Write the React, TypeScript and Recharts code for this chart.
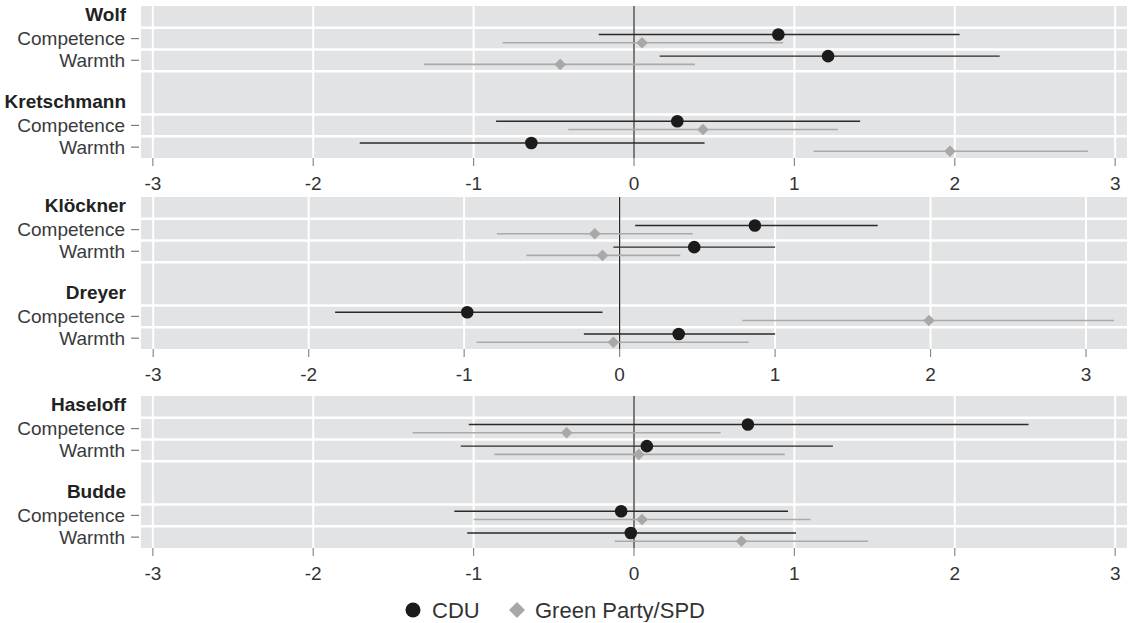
import React from "react";
import { CartesianGrid, ErrorBar, ReferenceLine, Scatter, ScatterChart, XAxis, YAxis } from "recharts";

const FONT = "'Liberation Sans', Arial, Helvetica, sans-serif";

// values per panel in the order: 1st name competence, 1st name warmth, 2nd name competence, 2nd name warmth
const dims = ["Competence", "Warmth"];
const xTicks = [-3, -2, -1, 0, 1, 2, 3];

const names1 = ["Wolf", "Kretschmann"];
const cduMean1 = [0.9, 1.21, 0.27, -0.64];
const cduLow1 = [-0.22, 0.16, -0.86, -1.71];
const cduHigh1 = [2.03, 2.28, 1.41, 0.44];
const greenMean1 = [0.05, -0.46, 0.43, 1.97];
const greenLow1 = [-0.82, -1.31, -0.41, 1.12];
const greenHigh1 = [0.93, 0.38, 1.27, 2.83];

const names2 = ["Klöckner", "Dreyer"];
const cduMean2 = [0.87, 0.48, -0.98, 0.38];
const cduLow2 = [0.1, -0.04, -1.83, -0.23];
const cduHigh2 = [1.66, 1.0, -0.11, 1.0];
const greenMean2 = [-0.16, -0.11, 1.99, -0.04];
const greenLow2 = [-0.79, -0.6, 0.79, -0.92];
const greenHigh2 = [0.47, 0.39, 3.18, 0.83];

const names3 = ["Haseloff", "Budde"];
const cduMean3 = [0.71, 0.08, -0.08, -0.02];
const cduLow3 = [-1.03, -1.08, -1.12, -1.04];
const cduHigh3 = [2.46, 1.24, 0.96, 1.01];
const greenMean3 = [-0.42, 0.03, 0.05, 0.67];
const greenLow3 = [-1.38, -0.87, -1.0, -0.12];
const greenHigh3 = [0.54, 0.94, 1.1, 1.46];

// row layout: header, competence, warmth, blank, header, competence, warmth
const labelRows = [0, 1, 2, 4, 5, 6];
const rowOf = (k: number) => Math.floor(k / 2) * 4 + 1 + (k % 2);

function series(mean: number[], low: number[], high: number[], shift: number) {
  return mean.map((m, k) => ({ x: m, y: rowOf(k) + shift, err: [m - low[k], high[k] - m] }));
}

const dot = (p: any) => <circle cx={p.cx} cy={p.cy} r={6.3} fill="#1b1b1b" />;
const diamond = (p: any) => (
  <polygon
    points={`${p.cx},${p.cy - 5.8} ${p.cx + 5.8},${p.cy} ${p.cx},${p.cy + 5.8} ${p.cx - 5.8},${p.cy}`}
    fill="#a8a8a8"
  />
);

function rowTick(props: any, names: string[]) {
  const { x, y, payload } = props;
  const v = payload.value;
  if (v % 4 === 0) {
    return (
      <text x={x - 14} y={y - 3} dy="0.36em" textAnchor="end" fontSize={19} fontWeight={700} fill="#222" fontFamily={FONT}>
        {names[v / 4]}
      </text>
    );
  }
  return (
    <g>
      <text x={x - 15} y={y} dy="0.36em" textAnchor="end" fontSize={19} fill="#3a3a3a" fontFamily={FONT}>
        {dims[(v % 4) - 1]}
      </text>
      <line x1={x - 9} x2={x - 1} y1={y} y2={y} stroke="#7a7a7a" strokeWidth={1.2} />
    </g>
  );
}

function Panel(props: {
  names: string[];
  cdu: any[];
  green: any[];
  domain: [number, number];
  top: number;
}) {
  const { names, cdu, green, domain, top } = props;
  return (
    <div style={{ position: "absolute", left: 0, top }}>
      <ScatterChart width={1129} height={195} margin={{ top: 6, right: 1, bottom: 0, left: 0 }}>
        <CartesianGrid horizontal={false} stroke="#ffffff" strokeWidth={2} fill="#e2e3e5" />
        <XAxis
          dataKey="x"
          type="number"
          domain={domain}
          allowDataOverflow
          ticks={xTicks}
          interval={0}
          axisLine={false}
          tickSize={8}
          tickMargin={11}
          tickLine={{ stroke: "#8a8a8a", strokeWidth: 1.2 }}
          tick={{ fontSize: 19, fill: "#333", fontFamily: FONT }}
          height={37}
        />
        <YAxis
          dataKey="y"
          type="number"
          domain={[-0.5, 6.5]}
          reversed
          allowDataOverflow
          ticks={labelRows}
          interval={0}
          axisLine={false}
          tickLine={false}
          tickSize={0}
          tickMargin={0}
          width={140}
          tick={(p: any) => rowTick(p, names)}
        />
        {labelRows.slice(0, -1).map((r) => (
          <ReferenceLine key={r} y={r + 0.5} stroke="#ffffff" strokeWidth={2.5} />
        ))}
        <ReferenceLine x={0} stroke="#222" strokeWidth={1.2} />
        <Scatter data={green} shape={diamond} isAnimationActive={false}>
          <ErrorBar dataKey="err" direction="x" width={0} stroke="#aaaaaa" strokeWidth={1.6} isAnimationActive={false} />
        </Scatter>
        <Scatter data={cdu} shape={dot} isAnimationActive={false}>
          <ErrorBar dataKey="err" direction="x" width={0} stroke="#2a2a2a" strokeWidth={1.4} isAnimationActive={false} />
        </Scatter>
      </ScatterChart>
    </div>
  );
}

export default function App() {
  return (
    <div style={{ position: "absolute", left: 0, top: 0, width: 1129, height: 623, background: "#fff", fontFamily: FONT }}>
      <Panel
        names={names1}
        cdu={series(cduMean1, cduLow1, cduHigh1, -0.19)}
        green={series(greenMean1, greenLow1, greenHigh1, 0.19)}
        domain={[-3.08, 3.08]}
        top={0}
      />
      <Panel
        names={names2}
        cdu={series(cduMean2, cduLow2, cduHigh2, -0.19)}
        green={series(greenMean2, greenLow2, greenHigh2, 0.19)}
        domain={[-3.085, 3.27]}
        top={191}
      />
      <Panel
        names={names3}
        cdu={series(cduMean3, cduLow3, cduHigh3, -0.19)}
        green={series(greenMean3, greenLow3, greenHigh3, 0.19)}
        domain={[-3.08, 3.08]}
        top={390}
      />
      <svg width={1129} height={33} style={{ position: "absolute", left: 0, top: 589 }}>
        <circle cx={413} cy={21} r={7.5} fill="#1b1b1b" />
        <text x={432} y={21} dy="0.36em" fontSize={22} fill="#333" fontFamily={FONT}>
          CDU
        </text>
        <polygon points="517,13 525,21 517,29 509,21" fill="#a8a8a8" />
        <text x={535} y={21} dy="0.36em" fontSize={22} fill="#333" fontFamily={FONT}>
          Green Party/SPD
        </text>
      </svg>
    </div>
  );
}
